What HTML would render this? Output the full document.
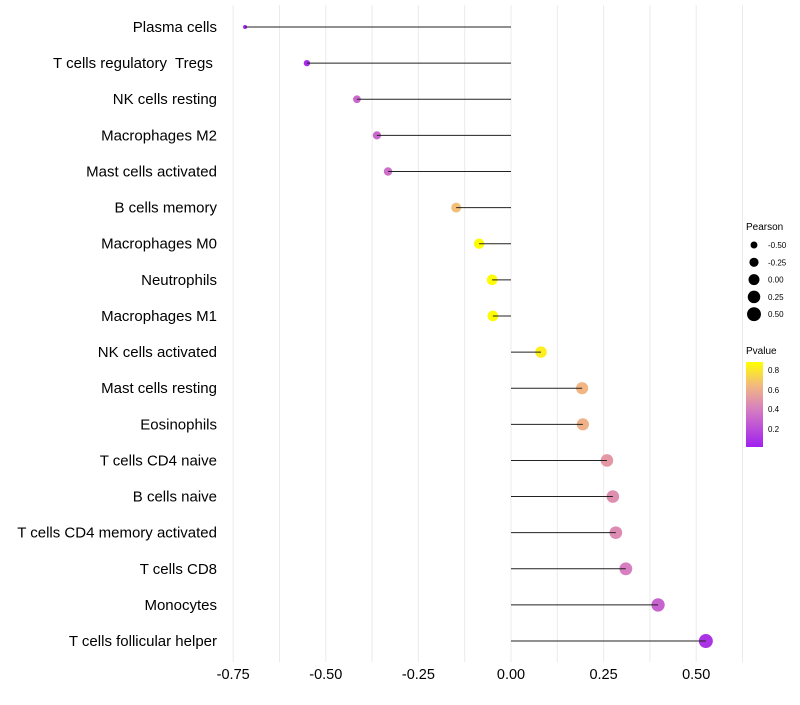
<!DOCTYPE html>
<html><head><meta charset="utf-8"><style>
body{margin:0;background:#fff;font-family:"Liberation Sans",sans-serif}
svg text{font-family:"Liberation Sans",sans-serif}
</style></head><body>
<svg id="chart" width="800" height="700">
<defs><linearGradient id="pg" x1="0" y1="1" x2="0" y2="0">
<stop offset="0" stop-color="#A020F0"/><stop offset="0.45" stop-color="#D77FC0"/><stop offset="0.72" stop-color="#F2B880"/><stop offset="1" stop-color="#FFFF00"/></linearGradient></defs>
<g id="grid"></g><g id="marks"></g><g id="axes"></g>
<g id="sizeLeg"><text x="746" y="230" font-size="10" fill="#000">Pearson</text></g>
<g>
<text x="746" y="354" font-size="10" fill="#000">Pvalue</text>
<rect x="746" y="362" width="17" height="85" fill="url(#pg)"/>
<text x="768" y="373" font-size="8">0.8</text><text x="768" y="393" font-size="8">0.6</text>
<text x="768" y="412" font-size="8">0.4</text><text x="768" y="432" font-size="8">0.2</text>
</g>
</svg>
<script>
const categories=["Plasma cells","T cells regulatory  Tregs ","NK cells resting","Macrophages M2","Mast cells activated","B cells memory","Macrophages M0","Neutrophils","Macrophages M1","NK cells activated","Mast cells resting","Eosinophils","T cells CD4 naive","B cells naive","T cells CD4 memory activated","T cells CD8","Monocytes","T cells follicular helper"];
const pearson=[-0.718,-0.551,-0.416,-0.362,-0.332,-0.148,-0.086,-0.051,-0.049,0.081,0.192,0.194,0.259,0.275,0.283,0.310,0.397,0.526];
const pvalue=[0.02,0.05,0.3,0.3,0.33,0.65,0.87,0.87,0.87,0.82,0.62,0.6,0.5,0.46,0.45,0.4,0.28,0.08];
const ticks=[-0.75,-0.5,-0.25,0,0.25,0.5];
const tickLabels=["-0.75","-0.50","-0.25","0.00","0.25","0.50"];
const sizeLegend=[-0.5,-0.25,0,0.25,0.5];
const NS="http://www.w3.org/2000/svg";
const x=v=>511+v*370.4;
const y=i=>27+i*36.12;
const r=v=>Math.sqrt(Math.max(1,30.1+36.3*v));
const stops=[[0,[160,32,240]],[0.4,[215,127,192]],[0.63,[242,184,128]],[0.88,[255,255,0]]];
function col(p){if(p<=stops[0][0])return rgb(stops[0][1]);for(let k=1;k<stops.length;k++){if(p<=stops[k][0]){const t=(p-stops[k-1][0])/(stops[k][0]-stops[k-1][0]);return rgb(stops[k-1][1].map((c,j)=>c+(stops[k][1][j]-c)*t));}}return rgb(stops[stops.length-1][1]);}
function rgb(a){return"rgb("+a.map(Math.round).join(",")+")";}
function mk(tag,at,parent){const e=document.createElementNS(NS,tag);for(const k in at)e.setAttribute(k,at[k]);document.getElementById(parent).appendChild(e);return e;}
for(let v=-0.75;v<=0.626;v+=0.125){
const g=mk("line",{x1:x(v),x2:x(v),y1:5,y2:662,stroke:"#ebebeb","stroke-width":1},"grid");

}
ticks.forEach((t,i)=>{const e=mk("text",{x:x(t),y:679,"font-size":14.5,"text-anchor":"middle",fill:"#000"},"axes");e.textContent=tickLabels[i];

});
categories.forEach((c,i)=>{
const t=mk("text",{x:217,y:y(i)+5,"font-size":15,"text-anchor":"end",fill:"#000",style:"white-space:pre"},"axes");t.textContent=c;


const d=mk("circle",{cx:x(pearson[i]),cy:y(i),r:r(pearson[i]),fill:col(pvalue[i])},"marks");


const l=mk("line",{x1:x(0),x2:x(pearson[i]),y1:y(i),y2:y(i),stroke:"#222","stroke-width":1},"marks");


});
sizeLegend.forEach((s,i)=>{const yy=245+i*17.3;
const c=mk("circle",{cx:754,cy:yy,r:r(s),fill:"#000"},"sizeLeg");


const t=mk("text",{x:768,y:yy+3,"font-size":8,fill:"#000"},"sizeLeg");t.textContent=s.toFixed(2);

});
</script>
</body></html>
